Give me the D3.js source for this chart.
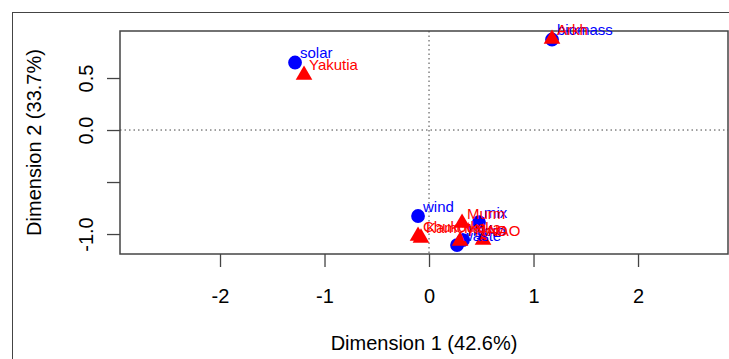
<!DOCTYPE html>
<html>
<head>
<meta charset="utf-8">
<script src="https://cdn.jsdelivr.net/npm/d3@7"></script>
<style>
  body { margin: 0; background: #fff; }
  svg { display: block; font-family: "Liberation Sans", Arial, Helvetica, sans-serif; }
</style>
</head>
<body>
<svg id="chart"></svg>
<script>
// Column points (blue circles)
const colNames = ["solar", "biomass", "wind", "mix", "hydro", "waste"];
const colDim1 = [-1.282, 1.177, -0.105, 0.478, 0.325, 0.268];
const colDim2 = [0.649, 0.870, -0.827, -0.885, -1.058, -1.106];

// Row points (red triangles)
const rowNames = ["Arkh", "Yakutia", "Chukotka", "Kamchatka", "Murm", "YNAO", "NAO"];
const rowDim1 = [1.177, -1.196, -0.105, -0.077, 0.316, 0.297, 0.517];
const rowDim2 = [0.875, 0.529, -1.019, -1.038, -0.894, -1.067, -1.058];

// Axis ticks
const xTicks = [-2, -1, 0, 1, 2];
const xTickLabels = ["-2", "-1", "0", "1", "2"];
const yTicks = [-1.0, -0.5, 0.0, 0.5];
const yTickLabels = ["-1.0", "", "0.0", "0.5"];

const xTitle = "Dimension 1 (42.6%)";
const yTitle = "Dimension 2 (33.7%)";

const W = 729, H = 359;
const plot = {left: 120, right: 728, top: 31, bottom: 254};

const svg = d3.select("#chart").attr("width", W).attr("height", H);

// outer figure frame
svg.append("rect")
    .attr("x", 12.5).attr("y", 12.5)
    .attr("width", 800).attr("height", 400)
    .attr("fill", "none").attr("stroke", "#444").attr("stroke-width", 1);

// scales (equal aspect, like the CA plot)
const x = d3.scaleLinear().domain([-2.957, 2.861]).range([plot.left, plot.right]);
const y = d3.scaleLinear().domain([0.952, -1.192]).range([plot.top, plot.bottom]);

// dotted reference lines at 0
svg.append("line")
    .attr("x1", x(0)).attr("x2", x(0))
    .attr("y1", plot.top).attr("y2", plot.bottom)
    .attr("stroke", "#444").attr("stroke-dasharray", "1.5,3");
svg.append("line")
    .attr("x1", plot.left).attr("x2", plot.right)
    .attr("y1", y(0)).attr("y2", y(0))
    .attr("stroke", "#444").attr("stroke-dasharray", "1.5,3");

// X axis
const gx = svg.append("g")
    .attr("transform", `translate(0, ${plot.bottom})`)
    .call(d3.axisBottom(x).tickValues(xTicks).tickSize(13)
        .tickFormat((d, i) => xTickLabels[i]));
gx.select(".domain").remove();
gx.selectAll(".tick line").attr("stroke", "#444").attr("stroke-width", 1.3);
gx.selectAll(".tick text")
    .attr("y", 49).attr("dy", 0)
    .attr("fill", "#000").style("font-size", "20px")
    .style("font-family", "'Liberation Sans', Arial, sans-serif");

// Y axis
const gy = svg.append("g")
    .attr("transform", `translate(${plot.left}, 0)`)
    .call(d3.axisLeft(y).tickValues(yTicks).tickSize(13)
        .tickFormat((d, i) => yTickLabels[i]));
gy.select(".domain").remove();
gy.selectAll(".tick line").attr("stroke", "#444").attr("stroke-width", 1.3);
gy.selectAll(".tick text")
    .attr("x", 0).attr("y", 0).attr("dy", 0)
    .attr("transform", "translate(-27, 0) rotate(-90)")
    .attr("text-anchor", "middle")
    .attr("fill", "#000").style("font-size", "20px")
    .style("font-family", "'Liberation Sans', Arial, sans-serif");

// plot box
svg.append("rect")
    .attr("x", plot.left).attr("y", plot.top)
    .attr("width", plot.right - plot.left).attr("height", plot.bottom - plot.top)
    .attr("fill", "none").attr("stroke", "#444").attr("stroke-width", 1.5);

// axis titles
svg.append("text")
    .attr("x", (plot.left + plot.right) / 2).attr("y", 350)
    .attr("text-anchor", "middle").style("font-size", "20px")
    .text(xTitle);
svg.append("text")
    .attr("transform", `translate(41, ${(plot.top + plot.bottom) / 2}) rotate(-90)`)
    .attr("text-anchor", "middle").style("font-size", "20px")
    .text(yTitle);

const cols = colNames.map((n, i) => ({name: n, d1: colDim1[i], d2: colDim2[i]}));
const rows = rowNames.map((n, i) => ({name: n, d1: rowDim1[i], d2: rowDim2[i]}));

// points
svg.append("g").selectAll("path")
    .data(cols).enter().append("path")
    .attr("d", d3.symbol(d3.symbolCircle, 150))
    .attr("transform", d => `translate(${x(d.d1)}, ${y(d.d2)})`)
    .attr("fill", "#0000ff");

svg.append("g").selectAll("path")
    .data(rows).enter().append("path")
    .attr("d", d3.symbol(d3.symbolTriangle, 120))
    .attr("transform", d => `translate(${x(d.d1)}, ${y(d.d2)})`)
    .attr("fill", "#ff0000");

// labels
const labDx = 5, labDy = -10;
svg.append("g").selectAll("text")
    .data(cols).enter().append("text")
    .attr("x", d => x(d.d1) + labDx).attr("y", d => y(d.d2) + labDy)
    .attr("dominant-baseline", "central")
    .style("font-size", "15px").attr("fill", "#0000ff")
    .text(d => d.name);

svg.append("g").selectAll("text")
    .data(rows).enter().append("text")
    .attr("x", d => x(d.d1) + labDx).attr("y", d => y(d.d2) + labDy)
    .attr("dominant-baseline", "central")
    .style("font-size", "15px").attr("fill", "#ff0000")
    .text(d => d.name);
</script>
</body>
</html>
